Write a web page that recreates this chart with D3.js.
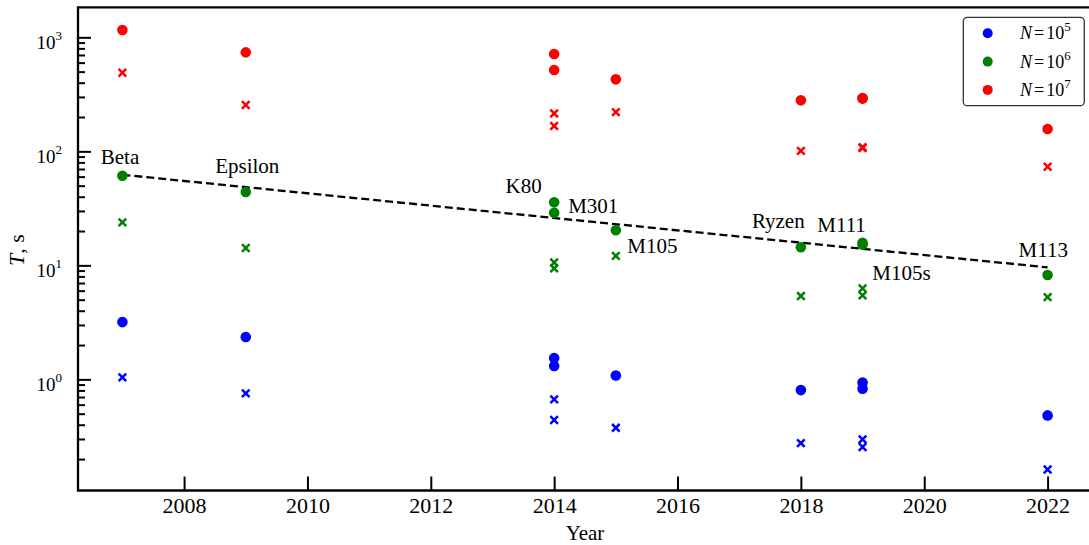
<!DOCTYPE html>
<html>
<head>
<meta charset="utf-8">
<script src="https://cdn.jsdelivr.net/npm/d3@7"></script>
<style>
  body { margin: 0; background: #fff; }
  svg { display: block; font-family: "Liberation Serif", "Times New Roman", serif; }
</style>
</head>
<body>
<svg id="chart"></svg>
<script>
// devices and their year
var devices = ["Beta", "Epsilon", "K80", "M301", "M105", "Ryzen", "M111", "M105s", "M113"];
var years   = [2007, 2009, 2014, 2014, 2015, 2018, 2019, 2019, 2022];

// time T, s  (circles / crosses) for N = 1e5, 1e6, 1e7
var circN5  = [3.18, 2.35, 1.54, 1.31, 1.08, 0.805, 0.94, 0.828, 0.483];
var crossN5 = [1.04, 0.753, 0.668, 0.44, 0.376, 0.276, 0.298, 0.255, 0.162];
var circN6  = [61.1, 44, 35.7, 28.9, 20.3, 14.4, 15.8, 15.2, 8.22];
var crossN6 = [23.8, 14.2, 10.6, 9.41, 12.1, 5.38, 6.28, 5.46, 5.27];
var circN7  = [1159, 738, 714, 517, 428, 280, 294, 290, 157];
var crossN7 = [489, 255, 215, 167, 221, 101, 109, 107, 73.3];

// trend line (dashed)
var fitYears  = [2007, 2022];
var fitValues = [62.3, 9.6];

var xTicks = [2008, 2010, 2012, 2014, 2016, 2018, 2020, 2022];
var yMajor = [1, 10, 100, 1000];
var legendLabels = ["5", "6", "7"];
var seriesColors = ["#0000ff", "#008000", "#ff0000"];

// label offsets from the N=1e6 circle (px)
var labelDx = [-21.6, -30.6, -48.6, 14, 11.4, -49, -45.3, 9.7, -29];
var labelDy = [-11.7, -19.3, -9, 0, 22.4, -19, -10.3, 35.4, -18.3];

var vWidth = 1089, vHeight = 545;
var mLeft = 78, mTop = 7.3, mRight = 1092, mBottom = 490.5;

var svg = d3.select("#chart").attr("width", vWidth).attr("height", vHeight);

var x = d3.scaleLinear().domain([2006.28, 2022.72]).range([mLeft, mRight]);
var y = d3.scaleLog().domain([0.106, 1834]).range([mBottom, mTop]);

// minor ticks 2..9 per decade
var yMinor = [];
[0.1, 1, 10, 100, 1000].forEach(function (d) {
    for (var k = 2; k <= 9; k++) {
        var v = d * k;
        if (v > y.domain()[0] && v < y.domain()[1]) yMinor.push(v);
    }
});

// x axis
var gx = svg.append("g").attr("transform", "translate(0," + mBottom + ")")
    .call(d3.axisBottom(x).tickValues(xTicks).tickFormat(d3.format("d")).tickSize(-14).tickSizeOuter(0));
gx.select(".domain").remove();
gx.selectAll(".tick line").attr("stroke", "#000").attr("stroke-width", 2);
gx.selectAll(".tick text").attr("y", 22).attr("dy", 0)
    .attr("font-size", 22).attr("font-family", "Liberation Serif").attr("fill", "#000");

// y axis major + minor
var gyMinor = svg.append("g").attr("transform", "translate(" + mLeft + ",0)")
    .call(d3.axisLeft(y).tickValues(yMinor).tickFormat("").tickSize(-7).tickSizeOuter(0));
gyMinor.select(".domain").remove();
gyMinor.selectAll(".tick line").attr("stroke", "#000").attr("stroke-width", 2);

var gy = svg.append("g").attr("transform", "translate(" + mLeft + ",0)")
    .call(d3.axisLeft(y).tickValues(yMajor).tickFormat("").tickSize(-13).tickSizeOuter(0));
gy.select(".domain").remove();
gy.selectAll(".tick line").attr("stroke", "#000").attr("stroke-width", 2);

var yLab = svg.append("g").selectAll("text").data(yMajor).enter().append("text")
    .attr("x", 62).attr("y", function (d) { return y(d) + 11.6; })
    .attr("text-anchor", "end").attr("font-size", 19).attr("fill", "#000");
yLab.append("tspan").text("10");
yLab.append("tspan").attr("dy", -9).attr("font-size", 13)
    .text(function (d) { return Math.round(Math.log10(d)); });

// frame
svg.append("path")
    .attr("d", "M" + mLeft + "," + mBottom + "V" + mTop + "H" + mRight + "V" + mBottom + "Z")
    .attr("fill", "none").attr("stroke", "#000").attr("stroke-width", 2.3);

// axis titles
svg.append("text").attr("x", 585).attr("y", 540).attr("text-anchor", "middle")
    .attr("font-size", 21).text("Year");
var yt = svg.append("text").attr("transform", "translate(24,250) rotate(-90)")
    .attr("text-anchor", "middle").attr("font-size", 22);
yt.append("tspan").attr("font-style", "italic").text("T");
yt.append("tspan").text(", s");

// dashed trend
svg.append("path")
    .datum(d3.zip(fitYears, fitValues))
    .attr("d", d3.line().x(function (d) { return x(d[0]); }).y(function (d) { return y(d[1]); }))
    .attr("fill", "none").attr("stroke", "#000").attr("stroke-width", 2.3)
    .attr("stroke-dasharray", "8,4");

// points
var circSeries = [circN5, circN6, circN7];
var crossSeries = [crossN5, crossN6, crossN7];
var g = svg.append("g");

circSeries.forEach(function (vals, i) {
    g.selectAll(null).data(vals).enter().append("circle")
        .attr("cx", function (d, j) { return x(years[j]); })
        .attr("cy", function (d) { return y(d); })
        .attr("r", 5.3)
        .attr("fill", seriesColors[i]);
});

var cross = "M-3.8,-3.8L3.8,3.8M-3.8,3.8L3.8,-3.8";
crossSeries.forEach(function (vals, i) {
    g.selectAll(null).data(vals).enter().append("path")
        .attr("transform", function (d, j) { return "translate(" + x(years[j]) + "," + y(d) + ")"; })
        .attr("d", cross)
        .attr("stroke", seriesColors[i]).attr("stroke-width", 2.5).attr("fill", "none");
});

// device labels
svg.append("g").selectAll("text").data(devices).enter().append("text")
    .attr("x", function (d, j) { return x(years[j]) + labelDx[j]; })
    .attr("y", function (d, j) { return y(circN6[j]) + labelDy[j]; })
    .attr("font-size", 21).attr("fill", "#000")
    .text(function (d) { return d; });

// legend
var lg = svg.append("g");
lg.append("rect").attr("x", 963.3).attr("y", 17.3).attr("width", 121).attr("height", 88.4)
    .attr("rx", 4).attr("fill", "#fff").attr("stroke", "#333").attr("stroke-width", 1.3);
legendLabels.forEach(function (p, i) {
    var cy = 33.3 + i * 28.3;
    lg.append("circle").attr("cx", 987.7).attr("cy", cy).attr("r", 5).attr("fill", seriesColors[i]);
    var t = lg.append("text").attr("x", 1020).attr("y", cy + 6).attr("font-size", 18);
    t.append("tspan").attr("font-style", "italic").text("N");
    t.append("tspan").attr("dx", 2).text("=");
    t.append("tspan").attr("dx", 2).text("10");
    t.append("tspan").attr("dy", -8).attr("font-size", 13).text(p);
});
</script>
</body>
</html>
